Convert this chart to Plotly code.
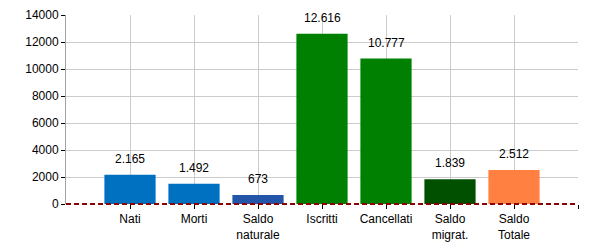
import plotly.graph_objects as go

categories = ["Nati", "Morti", "Saldo<br>naturale", "Iscritti", "Cancellati", "Saldo<br>migrat.", "Saldo<br>Totale"]
values = [2165, 1492, 673, 12616, 10777, 1839, 2512]
labels = ["2.165", "1.492", "673", "12.616", "10.777", "1.839", "2.512"]
colors = ["#0070C0", "#0070C0", "#2356A8", "#008000", "#008000", "#005000", "#FF8040"]
positions = list(range(1, len(categories) + 1))

fig = go.Figure()
fig.add_trace(go.Bar(x=positions, y=values, marker=dict(color=colors, line=dict(width=0)),
                     width=0.8, hoverinfo="skip"))

for p, v, t in zip(positions, values, labels):
    fig.add_annotation(x=p, y=v, text=t, showarrow=False, yanchor="bottom", yshift=7,
                       font=dict(family="Liberation Sans, Arial", size=12, color="#000"))

fig.add_shape(type="line", xref="paper", yref="paper", x0=0, x1=1, y0=0, y1=0, layer="above",
              line=dict(color="#8B0000", width=2, dash="5px,3px"))

fig.update_layout(
    width=600, height=250,
    margin=dict(l=66, r=22, t=15, b=46, autoexpand=False),
    paper_bgcolor="white", plot_bgcolor="white",
    showlegend=False,
    font=dict(family="Liberation Sans, Arial", size=11, color="#000"),
    xaxis=dict(range=[0, 8], tickvals=positions + [8], ticktext=categories + [""],
               showgrid=True, gridcolor="#CCCCCC", gridwidth=1, automargin=False,
               ticks="outside", ticklen=4, tickcolor="#000", showline=False,
               zeroline=False, tickfont=dict(size=12)),
    yaxis=dict(range=[0, 14000], dtick=2000, showgrid=True, gridcolor="#CCCCCC",
               ticks="outside", ticklen=4, tickcolor="#000", showline=True,
               linecolor="#A0A0A0", zeroline=False, tickformat="d", automargin=False,
               tickfont=dict(size=12)),
)

fig.write_html("out.html")
